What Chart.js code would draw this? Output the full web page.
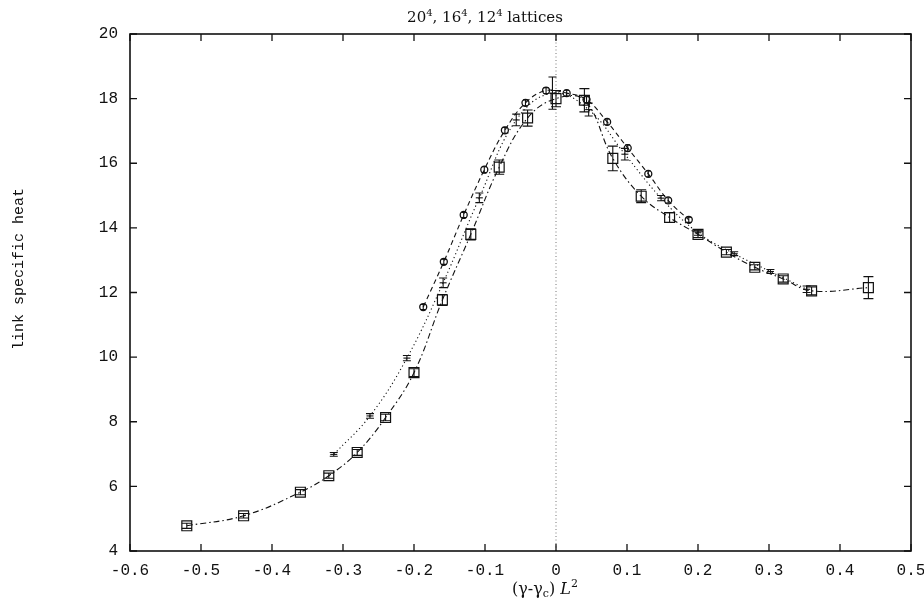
<!DOCTYPE html>
<html>
<head>
<meta charset="utf-8">
<script src="https://cdn.jsdelivr.net/npm/chart.js@4/dist/chart.umd.min.js"></script>
<style>
html,body{margin:0;padding:0;background:#fff;}
#wrap{width:924px;height:599px;position:relative;}
</style>
</head>
<body>
<div id="wrap"><canvas id="c" width="924" height="599"></canvas></div>
<script>
// ---- data ----
const titleText = ["20", "4", ", 16", "4", ", 12", "4", " lattices"];
const xAxisLabel = "(γ-γc) L²";
const yAxisLabel = "link specific heat";

const xTickValues = [-0.6, -0.5, -0.4, -0.3, -0.2, -0.1, 0, 0.1, 0.2, 0.3, 0.4, 0.5];
const xTickLabels = ["-0.6", "-0.5", "-0.4", "-0.3", "-0.2", "-0.1", "0", "0.1", "0.2", "0.3", "0.4", "0.5"];
const yTickValues = [4, 6, 8, 10, 12, 14, 16, 18, 20];
const yTickLabels = ["4", "6", "8", "10", "12", "14", "16", "18", "20"];

// 20^4 lattice (squares, dash-dot)
const x20 = [-0.52, -0.44, -0.36, -0.32, -0.28, -0.24, -0.20, -0.16, -0.12, -0.08, -0.04, 0.00, 0.04, 0.08, 0.12, 0.16, 0.20, 0.24, 0.28, 0.32, 0.36, 0.44];
const y20 = [4.78, 5.09, 5.82, 6.33, 7.05, 8.13, 9.52, 11.77, 13.80, 15.88, 17.40, 18.00, 17.95, 16.15, 14.98, 14.32, 13.80, 13.25, 12.78, 12.42, 12.05, 12.15];
const e20 = [0.08, 0.07, 0.08, 0.08, 0.09, 0.10, 0.12, 0.17, 0.17, 0.22, 0.25, 0.25, 0.36, 0.38, 0.20, 0.15, 0.10, 0.08, 0.08, 0.10, 0.12, 0.34];

// 16^4 lattice (error bars only, dotted)
const x16 = [-0.313, -0.262, -0.210, -0.159, -0.108, -0.056, -0.005, 0.046, 0.097, 0.148, 0.200, 0.251, 0.302, 0.353];
const y16 = [6.99, 8.18, 9.97, 12.30, 14.93, 17.34, 18.17, 17.66, 16.28, 14.92, 13.85, 13.20, 12.65, 12.10];
const e16 = [0.06, 0.07, 0.08, 0.15, 0.15, 0.18, 0.50, 0.20, 0.18, 0.08, 0.08, 0.06, 0.06, 0.10];

// 12^4 lattice (circles, dashed)
const x12 = [-0.187, -0.158, -0.130, -0.101, -0.072, -0.043, -0.014, 0.015, 0.043, 0.072, 0.101, 0.130, 0.158, 0.187];
const y12 = [11.55, 12.95, 14.40, 15.80, 17.02, 17.87, 18.25, 18.17, 17.97, 17.28, 16.47, 15.67, 14.85, 14.25];
const e12 = [0.08, 0.08, 0.08, 0.09, 0.09, 0.09, 0.09, 0.09, 0.09, 0.09, 0.10, 0.09, 0.08, 0.08];

function pts(xs, ys) { return xs.map((x, i) => ({ x: x, y: ys[i] })); }

const errorSets = [
  { xs: x20, ys: y20, es: e20, cap: 5 },
  { xs: x16, ys: y16, es: e16, cap: 4 },
  { xs: x12, ys: y12, es: e12, cap: 2.5 }
];

function drawRich(ctx, segs, cx, baseline) {
  let w = 0;
  segs.forEach(s => { ctx.font = s.f; s.w = ctx.measureText(s.t).width; w += s.w; });
  let x = cx - w / 2;
  ctx.textAlign = 'left';
  ctx.textBaseline = 'alphabetic';
  segs.forEach(s => { ctx.font = s.f; ctx.fillText(s.t, x, baseline + (s.dy || 0)); x += s.w; });
}

const decor = {
  id: 'decor',
  beforeDatasetsDraw(chart) {
    const ctx = chart.ctx, xs = chart.scales.x, a = chart.chartArea;
    const x0 = xs.getPixelForValue(0);
    ctx.save();
    ctx.strokeStyle = '#777';
    ctx.lineWidth = 1;
    ctx.setLineDash([1, 2.5]);
    ctx.beginPath();
    ctx.moveTo(x0, a.bottom);
    ctx.lineTo(x0, a.top);
    ctx.stroke();
    ctx.restore();
  },
  afterDatasetsDraw(chart) {
    const ctx = chart.ctx, xs = chart.scales.x, ys = chart.scales.y, a = chart.chartArea;
    ctx.save();
    ctx.strokeStyle = '#111';
    ctx.lineWidth = 1.1;
    ctx.setLineDash([]);
    errorSets.forEach(s => {
      s.xs.forEach((xv, i) => {
        const px = xs.getPixelForValue(xv);
        const top = ys.getPixelForValue(s.ys[i] + s.es[i]);
        const bot = ys.getPixelForValue(s.ys[i] - s.es[i]);
        ctx.beginPath();
        ctx.moveTo(px, top); ctx.lineTo(px, bot);
        ctx.moveTo(px - s.cap, top); ctx.lineTo(px + s.cap, top);
        ctx.moveTo(px - s.cap, bot); ctx.lineTo(px + s.cap, bot);
        ctx.stroke();
      });
    });
    // frame
    ctx.lineWidth = 1.6;
    ctx.strokeStyle = '#111';
    ctx.strokeRect(a.left, a.top, a.right - a.left, a.bottom - a.top);
    // inward ticks
    ctx.lineWidth = 1.3;
    const tl = 7;
    ctx.beginPath();
    xTickValues.forEach(v => {
      const p = xs.getPixelForValue(v);
      ctx.moveTo(p, a.bottom); ctx.lineTo(p, a.bottom - tl);
      ctx.moveTo(p, a.top); ctx.lineTo(p, a.top + tl);
    });
    yTickValues.forEach(v => {
      const p = ys.getPixelForValue(v);
      ctx.moveTo(a.left, p); ctx.lineTo(a.left + tl, p);
      ctx.moveTo(a.right, p); ctx.lineTo(a.right - tl, p);
    });
    ctx.stroke();
    ctx.restore();
  },
  afterDraw(chart) {
    const ctx = chart.ctx;
    ctx.save();
    ctx.fillStyle = '#111';
    const big = '15px "DejaVu Serif", "Liberation Serif", serif';
    const small = '10px "DejaVu Serif", "Liberation Serif", serif';
    const segs = titleText.map((t, i) => (i % 2 === 1) ? { t: t, f: small, dy: -6 } : { t: t, f: big });
    drawRich(ctx, segs, 485, 22);
    // x axis title (γ-γc) L²
    const xf = '16px "DejaVu Serif", "Liberation Serif", serif';
    const xfi = 'italic 16px "DejaVu Serif", "Liberation Serif", serif';
    const xfs = '11px "DejaVu Serif", "Liberation Serif", serif';
    const parts = xAxisLabel.split(' ');
    drawRich(ctx, [
      { t: parts[0].slice(0, 4), f: xf },
      { t: parts[0].slice(4, 5), f: xfs, dy: 3 },
      { t: parts[0].slice(5) + ' ', f: xf },
      { t: parts[1].slice(0, 1), f: xfi },
      { t: parts[1].slice(1) === '²' ? '2' : parts[1].slice(1), f: xfs, dy: -7 }
    ], 545, 594);
    // y axis title
    ctx.translate(19, 269);
    ctx.rotate(-Math.PI / 2);
    ctx.font = '15px "Liberation Mono", "DejaVu Sans Mono", monospace';
    ctx.textAlign = 'center';
    ctx.textBaseline = 'middle';
    ctx.fillText(yAxisLabel, 0, 0);
    ctx.restore();
  }
};

const monoFont = { family: '"Liberation Mono", "DejaVu Sans Mono", monospace', size: 16 };

new Chart(document.getElementById('c'), {
  type: 'scatter',
  data: {
    datasets: [
      {
        label: '20^4',
        data: pts(x20, y20),
        showLine: true,
        tension: 0.4,
        borderColor: '#111',
        borderWidth: 1.1,
        borderDash: [6, 3, 1.5, 3],
        pointStyle: 'rect',
        pointRadius: 7,
        pointBorderWidth: 1.2,
        pointBorderColor: '#111',
        pointBackgroundColor: 'rgba(255,255,255,0)'
      },
      {
        label: '16^4',
        data: pts(x16, y16),
        showLine: true,
        tension: 0.4,
        borderColor: '#111',
        borderWidth: 1.1,
        borderDash: [1.2, 2.8],
        pointStyle: 'line',
        pointRadius: 3.5,
        pointBorderWidth: 1.1,
        pointBorderColor: '#111',
        pointBackgroundColor: '#111'
      },
      {
        label: '12^4',
        data: pts(x12, y12),
        showLine: true,
        tension: 0.4,
        borderColor: '#111',
        borderWidth: 1.1,
        borderDash: [5, 3.5],
        pointStyle: 'circle',
        pointRadius: 3.5,
        pointBorderWidth: 1.3,
        pointBorderColor: '#111',
        pointBackgroundColor: 'rgba(255,255,255,0)'
      }
    ]
  },
  options: {
    responsive: false,
    animation: false,
    events: [],
    layout: { padding: { top: 34, right: 13, left: 0, bottom: 0 } },
    plugins: { legend: { display: false }, title: { display: false }, tooltip: { enabled: false } },
    scales: {
      x: {
        type: 'linear',
        min: -0.6, max: 0.5,
        afterBuildTicks: s => { s.ticks = xTickValues.map(v => ({ value: v })); },
        afterFit: s => { s.height = 48; s.paddingLeft = 0; s.paddingRight = 0; },
        grid: { display: false, drawTicks: false },
        border: { display: false },
        ticks: {
          color: '#111', font: monoFont, padding: 10, maxRotation: 0, autoSkip: false,
          callback: (v, i) => xTickLabels[i]
        }
      },
      y: {
        type: 'linear',
        min: 4, max: 20,
        afterBuildTicks: s => { s.ticks = yTickValues.map(v => ({ value: v })); },
        afterFit: s => { s.width = 130; s.paddingTop = 0; s.paddingBottom = 0; },
        grid: { display: false, drawTicks: false },
        border: { display: false },
        ticks: {
          color: '#111', font: monoFont, padding: 12, autoSkip: false,
          callback: (v, i) => yTickLabels[i]
        }
      }
    }
  },
  plugins: [decor]
});
</script>
</body>
</html>
